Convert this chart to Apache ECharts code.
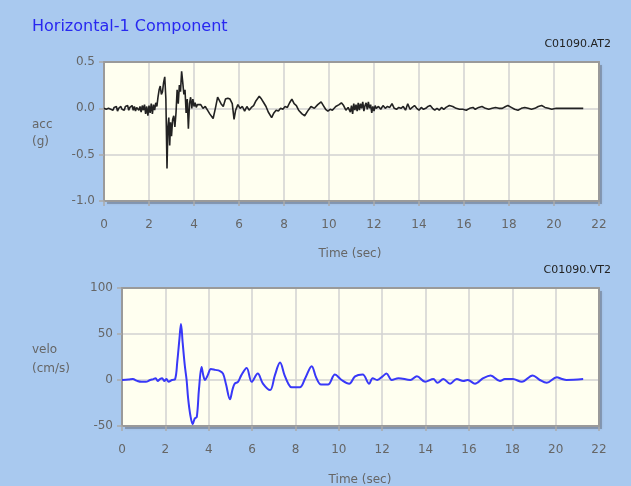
<!DOCTYPE html>
<html>
<head>
<meta charset="utf-8">
<script src="https://cdn.jsdelivr.net/npm/echarts@6/dist/echarts.min.js"></script>
<style>
html,body{margin:0;padding:0;background:#A9C9EF;}
#c{width:631px;height:486px;}
</style>
</head>
<body>
<div id="c"></div>
<script>
const titleText = "Horizontal-1 Component";
const accFile = "C01090.AT2";
const veloFile = "C01090.VT2";
const xLabel = "Time (sec)";
const accLabel = "acc\n(g)";
const veloLabel = "velo\n(cm/s)";

// acceleration [time (s), g]
const accData = [
[0.00,0.00],[0.05,0.01],[0.10,-0.01],[0.15,0.01],[0.20,0.00],[0.25,0.02],[0.30,-0.01],[0.35,0.01],[0.40,-0.02],[0.45,0.01],
[0.50,-0.01],[0.55,0.02],[0.60,-0.03],[0.65,0.00],[0.70,-0.01],[0.75,0.02],[0.80,-0.01],[0.85,0.01],[0.90,-0.02],[0.95,0.02],
[1.00,0.00],[1.05,0.03],[1.10,-0.02],[1.15,0.01],[1.20,-0.01],[1.25,0.03],[1.30,-0.02],[1.35,0.02],[1.40,-0.03],[1.45,0.01],
[1.50,0.03],[1.55,-0.02],[1.60,0.02],[1.65,-0.04],[1.70,0.03],[1.75,-0.02],[1.80,0.04],[1.85,-0.06],[1.90,0.02],[1.95,-0.08],
[2.00,0.03],[2.05,-0.05],[2.10,0.05],[2.15,-0.06],[2.20,0.04],[2.25,-0.02],[2.30,0.06],[2.35,0.02],[2.40,0.12],[2.45,0.20],
[2.50,0.24],[2.55,0.15],[2.60,0.18],[2.65,0.28],[2.70,0.34],[2.75,0.10],[2.80,-0.65],[2.84,-0.20],[2.88,-0.10],[2.92,-0.40],
[2.96,-0.15],[3.00,-0.30],[3.05,-0.12],[3.10,-0.08],[3.15,-0.20],[3.20,-0.05],[3.25,0.20],[3.30,0.05],[3.35,0.25],[3.40,0.18],
[3.45,0.40],[3.50,0.28],[3.55,0.15],[3.60,0.20],[3.65,-0.05],[3.70,0.10],[3.75,-0.22],[3.80,0.05],[3.85,0.12],[3.90,0.00],
[3.95,0.10],[4.00,0.02],[4.05,0.06],[4.10,0.01],[4.15,0.04],[4.20,0.02],[4.30,0.04],[4.40,0.00],[4.50,0.02],[4.60,-0.02],
[4.70,-0.06],[4.85,-0.11],[4.95,0.00],[5.05,0.12],[5.12,0.13],[5.20,0.05],[5.30,0.02],[5.40,0.10],[5.50,0.11],[5.60,0.10],
[5.70,0.05],[5.78,-0.12],[5.85,-0.02],[5.95,0.04],[6.05,0.00],[6.15,0.02],[6.25,-0.03],[6.35,0.02],[6.45,-0.02],[6.55,0.01],
[6.65,0.03],[6.75,0.08],[6.90,0.13],[7.00,0.10],[7.10,0.06],[7.20,0.02],[7.30,-0.04],[7.45,-0.10],[7.55,-0.05],[7.65,-0.02],
[7.75,-0.03],[7.85,0.00],[7.95,-0.01],[8.05,0.02],[8.15,0.01],[8.25,0.06],[8.35,0.10],[8.45,0.05],[8.55,0.03],[8.65,-0.02],
[8.80,-0.06],[8.92,-0.08],[9.05,-0.03],[9.20,0.02],[9.35,0.00],[9.50,0.04],[9.65,0.07],[9.75,0.03],[9.85,-0.01],[9.95,-0.03],
[10.05,-0.01],[10.15,-0.02],[10.30,0.02],[10.45,0.04],[10.55,0.06],[10.65,0.03],[10.75,-0.02],[10.85,0.01],[10.95,-0.04],[11.00,0.03],
[11.05,-0.06],[11.10,0.05],[11.15,-0.02],[11.20,0.04],[11.25,-0.03],[11.30,0.06],[11.35,-0.02],[11.40,0.05],[11.45,0.00],[11.50,0.07],
[11.55,-0.03],[11.60,0.03],[11.65,0.06],[11.70,-0.01],[11.75,0.07],[11.80,0.00],[11.85,0.04],[11.90,-0.05],[11.95,0.02],[12.00,-0.03],
[12.05,0.03],[12.10,0.00],[12.20,0.02],[12.30,-0.01],[12.40,0.03],[12.50,0.00],[12.60,0.02],[12.70,0.01],[12.80,0.05],[12.90,0.00],
[13.00,-0.01],[13.10,0.01],[13.20,0.00],[13.30,0.02],[13.40,-0.02],[13.50,0.05],[13.60,-0.01],[13.70,0.01],[13.80,0.03],[13.90,0.00],
[14.00,-0.02],[14.10,0.01],[14.20,-0.01],[14.30,0.00],[14.40,0.02],[14.50,0.03],[14.60,0.00],[14.70,-0.02],[14.80,0.00],[14.90,-0.02],
[15.00,0.01],[15.10,-0.01],[15.20,0.01],[15.35,0.03],[15.50,0.02],[15.65,0.00],[15.80,-0.01],[15.95,-0.01],[16.10,-0.02],[16.25,0.00],
[16.40,0.01],[16.50,-0.01],[16.65,0.01],[16.80,0.02],[16.95,0.00],[17.10,-0.01],[17.25,0.00],[17.40,0.01],[17.55,0.00],[17.70,0.00],
[17.85,0.02],[17.95,0.03],[18.10,0.01],[18.25,-0.01],[18.40,-0.02],[18.55,0.00],[18.70,0.01],[18.85,0.00],[19.00,-0.01],[19.15,0.00],
[19.30,0.02],[19.45,0.03],[19.60,0.01],[19.75,0.00],[19.90,-0.01],[20.10,0.00],[20.40,0.00],[20.80,0.00],[21.30,0.00]
];

// velocity [time (s), cm/s]
const veloData = [
[0,0],[0.3,0.5],[0.5,1],[0.7,-1],[0.9,-2],[1.1,-2],[1.3,0],[1.45,1],[1.55,2],[1.65,-1],[1.75,1],[1.85,2],[1.95,-1],[2.05,1],
[2.15,-2],[2.3,0],[2.45,1],[2.55,20],[2.65,45],[2.72,61],[2.8,40],[2.9,15],[2.98,0],[3.05,-20],[3.15,-38],[3.26,-48],[3.35,-42],
[3.45,-40],[3.55,-10],[3.67,14],[3.75,5],[3.83,0],[3.95,5],[4.1,12],[4.3,11],[4.5,10],[4.66,7],[4.8,-5],[4.98,-21],[5.1,-10],
[5.2,-4],[5.35,-2],[5.5,5],[5.75,13],[5.98,-2],[6.26,7],[6.5,-4],[6.83,-11],[7.05,5],[7.29,19],[7.5,5],[7.67,-4],[7.82,-8],
[8.2,-8],[8.45,2],[8.75,15],[8.95,3],[9.18,-5],[9.5,-5],[9.82,6],[10.13,0],[10.48,-4],[10.75,4],[11.1,6],[11.4,-4],[11.56,2],
[11.77,0],[12.02,4],[12.2,7],[12.44,0],[12.75,2],[13.3,0],[13.6,4],[13.98,-2],[14.36,1],[14.55,-3],[14.82,1],[15.13,-4],[15.44,1],
[15.74,-1],[15.95,0],[16.28,-4],[16.66,2],[17.0,5],[17.43,-1],[17.66,1],[18.03,1],[18.44,-2],[18.94,5],[19.27,0],[19.59,-3],
[20.05,3],[20.3,1],[20.5,0],[21.27,1]
];

const xTicks = {min:0, max:22, interval:2};
const accTicks = {min:-1, max:0.5, interval:0.5};
const veloTicks = {min:-50, max:100, interval:50};

const FONT = "DejaVu Sans";
const chart = echarts.init(document.getElementById('c'), null, {renderer:'canvas'});

const BORDER = {color:'#9a9a9a', width:2};
function xAxisCfg(gi, margin){
  return {
    type:'value', gridIndex:gi, min:xTicks.min, max:xTicks.max, interval:xTicks.interval,
    axisLine:{show:true, onZero:false, lineStyle:BORDER},
    axisTick:{show:true, length:5, lineStyle:{color:'#aaa', width:1.5}},
    axisLabel:{color:'#666', fontSize:12, fontFamily:FONT, margin:margin},
    splitLine:{show:true, lineStyle:{color:'#d2d2d2', width:1.5}}
  };
}
function yAxisCfg(gi, t, fmt){
  return {
    type:'value', gridIndex:gi, min:t.min, max:t.max, interval:t.interval,
    axisLine:{show:true, onZero:false, lineStyle:BORDER},
    axisTick:{show:true, length:5, lineStyle:{color:'#aaa', width:1.5}},
    axisLabel:{color:'#666', fontSize:12, fontFamily:FONT, margin:9, formatter:fmt},
    splitLine:{show:true, lineStyle:{color:'#d2d2d2', width:1.5}},
    splitArea:{show:true, areaStyle:{color:['#FFFFF0','#FFFFF0']}}
  };
}
function frameAxis(kind, gi, pos, t){
  return {
    type:'value', gridIndex:gi, position:pos, min:t.min, max:t.max, interval:t.interval, z:4,
    axisLine:{show:true, onZero:false, lineStyle:BORDER},
    axisTick:{show:false}, axisLabel:{show:false}, splitLine:{show:false}, splitArea:{show:false}
  };
}

const plotStyle = {show:true, backgroundColor:'transparent', borderWidth:0};
const shadowStyle = {show:true, z:-5, backgroundColor:'rgba(70,70,80,0.33)', borderWidth:0,
  shadowColor:'rgba(70,70,80,0.33)', shadowBlur:2};

chart.setOption({
  backgroundColor:'#A9C9EF',
  animation:false,
  grid:[
    Object.assign({left:104, top:62, width:495, height:139}, plotStyle),
    Object.assign({left:122, top:288, width:477, height:138}, plotStyle),
    Object.assign({left:107, top:65, width:495, height:139}, shadowStyle),
    Object.assign({left:125, top:291, width:477, height:138}, shadowStyle)
  ],
  xAxis:[xAxisCfg(0, 18), xAxisCfg(1, 18), frameAxis('x', 0, 'top', xTicks), frameAxis('x', 1, 'top', xTicks)],
  yAxis:[
    yAxisCfg(0, accTicks, v => v.toFixed(1)),
    yAxisCfg(1, veloTicks, v => String(v)),
    frameAxis('y', 0, 'right', accTicks),
    frameAxis('y', 1, 'right', veloTicks)
  ],
  series:[
    {type:'line', xAxisIndex:0, yAxisIndex:0, data:accData, showSymbol:false, z:5,
     lineStyle:{color:'#222', width:1.6}},
    {type:'line', xAxisIndex:1, yAxisIndex:1, data:veloData, showSymbol:false, smooth:0.35, z:5,
     lineStyle:{color:'#3838f8', width:2}}
  ],
  graphic:[
    {type:'text', left:32, top:19, style:{text:titleText, fill:'#2828F0', font:'16px "DejaVu Sans"'}},
    {type:'text', right:20, top:39, style:{text:accFile, fill:'#222', font:'11px "DejaVu Sans"'}},
    {type:'text', right:20, top:265, style:{text:veloFile, fill:'#222', font:'11px "DejaVu Sans"'}},
    {type:'text', left:32, top:116, style:{text:accLabel, fill:'#666', font:'12px "DejaVu Sans"', lineHeight:17}},
    {type:'text', left:32, top:340, style:{text:veloLabel, fill:'#666', font:'12px "DejaVu Sans"', lineHeight:19}},
    {type:'text', x:350, y:254, style:{text:xLabel, fill:'#666', font:'12px "DejaVu Sans"', align:'center', verticalAlign:'middle'}},
    {type:'text', x:360, y:480, style:{text:xLabel, fill:'#666', font:'12px "DejaVu Sans"', align:'center', verticalAlign:'middle'}}
  ]
});
</script>
</body>
</html>
